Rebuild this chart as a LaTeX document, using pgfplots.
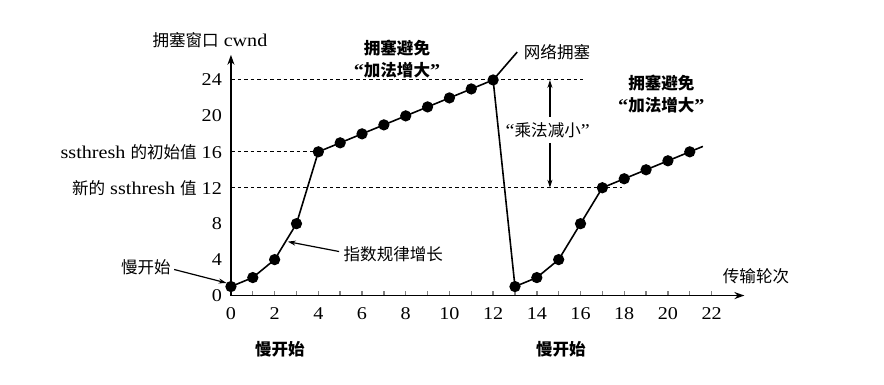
\documentclass[border=0pt]{standalone}
\usepackage{pgfplots}
\pgfplotsset{compat=1.18}
\usepackage{fontspec}
\setmainfont[FakeStretch=1.12]{Liberation Serif}
\newfontfamily\cjk[Scale=0.92]{Noto Sans CJK SC}
\usetikzlibrary{arrows.meta}
\begin{document}
\begin{tikzpicture}[font=\fontsize{9}{11}\selectfont]
\begin{axis}[
  scale only axis, width=257pt, height=120.5pt,
  xmin=0, xmax=23.5, ymin=0, ymax=26.8,
  axis lines=left,
  axis line style={-{Stealth[length=5pt,width=3.5pt]}, line width=0.9pt},
  clip=false,
  xtick={0,2,...,22}, minor xtick={1,3,...,21},
  tick align=inside, major tick length=2.5pt, minor tick length=2.5pt,
  xtick style={line width=0.7pt},
  ytick={0,4,8,12,16,20,24},
  yticklabels={0,4,8,{\cjk 新的} ssthresh {\cjk 值} 12,ssthresh {\cjk 的初始值} 16,20,24},
  ytick style={draw=none},
  /pgf/number format/assume math mode=true,
  tick label style={font=\fontsize{9}{11}\selectfont},
  xticklabel style={yshift=-2.5pt},
  yticklabel style={xshift=-1pt},
]
% dashed guide lines
\draw[line width=0.5pt, dash pattern=on 1.8pt off 1.5pt] (axis cs:0,24) -- (axis cs:16.1,24);
\draw[line width=0.5pt, dash pattern=on 1.8pt off 1.5pt] (axis cs:0,16) -- (axis cs:4,16);
\draw[line width=0.5pt, dash pattern=on 1.8pt off 1.5pt] (axis cs:0,12) -- (axis cs:17.9,12);
% data
\addplot[black, line width=0.8pt, mark=*, mark size=2.4pt, mark options={fill=black}]
coordinates {(0,1)(1,2)(2,4)(3,8)(4,16)(5,17)(6,18)(7,19)(8,20)(9,21)(10,22)(11,23)(12,24)
(13,1)(14,2)(15,4)(16,8)(17,12)(18,13)(19,14)(20,15)(21,16)};
\addplot[black, line width=0.8pt, no marks] coordinates {(21,16)(21.6,16.6)};
\addplot[black, line width=0.8pt, no marks] coordinates {(12,24)(13.1,27.1)};
% annotations
\node[anchor=west, inner sep=1pt] at (axis cs:13.3,27.1) {\cjk 网络拥塞};
\node[align=center, inner sep=0pt, font=\fontsize{9}{11}\selectfont\bfseries] at (axis cs:7.6,26.3) {{\cjk\bfseries 拥塞避免}\\[0pt]“{\cjk\bfseries 加法增大}”};
\node[align=center, inner sep=0pt, font=\fontsize{9}{11}\selectfont\bfseries] at (axis cs:19.7,22.4) {{\cjk\bfseries 拥塞避免}\\[0pt]“{\cjk\bfseries 加法增大}”};
\node[inner sep=1pt] at (axis cs:14.5,18.4) {“{\cjk 乘法减小}”};
\draw[line width=0.6pt, -{Stealth[length=4pt,width=2.5pt]}] (axis cs:14.6,19.9) -- (axis cs:14.6,24);
\draw[line width=0.6pt, -{Stealth[length=4pt,width=2.5pt]}] (axis cs:14.6,17) -- (axis cs:14.6,12);
\node[inner sep=0pt] at (axis cs:-0.96,28.4) {{\cjk 拥塞窗口} cwnd};
\node[anchor=west, inner sep=0pt] at (axis cs:22.5,2.1) {\cjk 传输轮次};
\node[font=\fontsize{9}{11}\selectfont\bfseries] at (axis cs:2.24,-6) {\cjk\bfseries 慢开始};
\node[font=\fontsize{9}{11}\selectfont\bfseries] at (axis cs:15.1,-6) {\cjk\bfseries 慢开始};
\node[anchor=east, inner sep=1pt] at (axis cs:-2.65,3.1) {\cjk 慢开始};
\draw[line width=0.6pt, -{Stealth[length=4pt,width=2.5pt]}] (axis cs:-2.6,2.9) -- (axis cs:-0.2,1.4);
\node[anchor=west, inner sep=1pt] at (axis cs:5.05,4.6) {\cjk 指数规律增长};
\draw[line width=0.6pt, -{Stealth[length=4pt,width=2.5pt]}] (axis cs:4.95,4.9) -- (axis cs:2.6,6.0);
\coordinate (bbll) at (axis cs:-10.57,-9.89);
\coordinate (bbur) at (axis cs:29.89,32.9);
\end{axis}
\pgfresetboundingbox
\path (bbll) rectangle (bbur);
\end{tikzpicture}
\end{document}
